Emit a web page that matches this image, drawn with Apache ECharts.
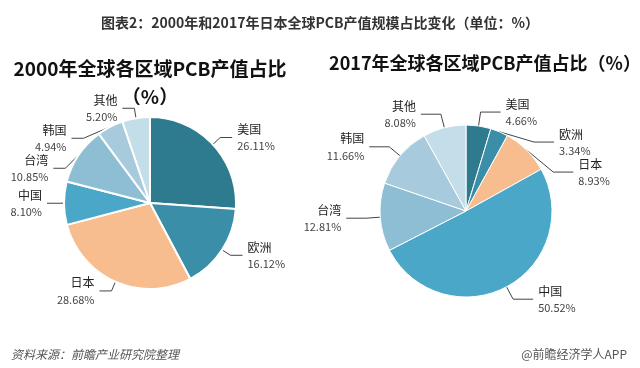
<!DOCTYPE html>
<html><head><meta charset="utf-8">
<script src="https://cdn.jsdelivr.net/npm/echarts@6/dist/echarts.min.js"></script>
<style>html,body{margin:0;padding:0;background:#fff}#c{width:640px;height:368px}</style>
</head><body><div id="c"></div>
<script>
const categories = ['美国','欧洲','日本','中国','台湾','韩国','其他'];
const values2000 = [26.11, 16.12, 28.68, 8.10, 10.85, 4.94, 5.20];
const values2017 = [4.66, 3.34, 8.93, 50.52, 12.81, 11.66, 8.08];
const colors = ['#2e7a8f','#3a8ea8','#f7bd8e','#4ba7c8','#8ebed4','#a7cbdc','#c4dee9'];
const mainTitle = '图表2：2000年和2017年日本全球PCB产值规模占比变化（单位：%）';
const title2000 = '2000年全球各区域PCB产值占比\n（%）';
const title2017 = '2017年全球各区域PCB产值占比（%）';
const sourceText = '资料来源：前瞻产业研究院整理';
const brandText = '@前瞻经济学人APP';
const FF = '"Noto Sans CJK SC", "Noto Sans", sans-serif';

function mk(vals){ return categories.map((n,i)=>({name:n, value:vals[i], itemStyle:{color:colors[i]}})); }
const labelCfg = {
  show:true, position:'outside', overflow:'none',
  formatter: p => '{b|' + p.name + '}\n{c|' + p.value.toFixed(2) + '%}',
  rich:{ b:{fontSize:12, color:'#222', fontFamily:FF, lineHeight:17}, c:{fontSize:11, color:'#444', fontFamily:FF, lineHeight:16} }
};
const chart = echarts.init(document.getElementById('c'));
chart.setOption({
  backgroundColor:'#fff',
  animation:false,
  title:[
    {text:mainTitle, left:'center', top:11, textStyle:{fontSize:14, fontWeight:'bold', color:'#333', fontFamily:FF}},
    {text:title2000, left:145, textAlign:'center', top:50, textStyle:{fontSize:19, fontWeight:'bold', color:'#111', fontFamily:FF, lineHeight:28}},
    {text:title2017, left:480, textAlign:'center', top:49, textStyle:{fontSize:18, fontWeight:'bold', color:'#111', fontFamily:FF}},
    {text:sourceText, left:6, top:343, textStyle:{fontSize:12, fontWeight:'normal', fontStyle:'italic', color:'#555', fontFamily:FF}},
    {text:brandText, right:8, top:343, textStyle:{fontSize:12, fontWeight:'normal', color:'#555', fontFamily:FF}}
  ],
  series:[
    {type:'pie', center:[150,203], radius:86, startAngle:90, clockwise:true,
     itemStyle:{borderColor:'#fff', borderWidth:2},
     label:labelCfg, labelLine:{show:true, length:10, length2:12, lineStyle:{color:'#444', width:1}},
     data:mk(values2000)},
    {type:'pie', center:[466,211], radius:86, startAngle:90, clockwise:true,
     itemStyle:{borderColor:'#fff', borderWidth:1},
     label:labelCfg, labelLine:{show:true, length:14, length2:20, lineStyle:{color:'#444', width:1}},
     data:mk(values2017)}
  ]
});
</script></body></html>
